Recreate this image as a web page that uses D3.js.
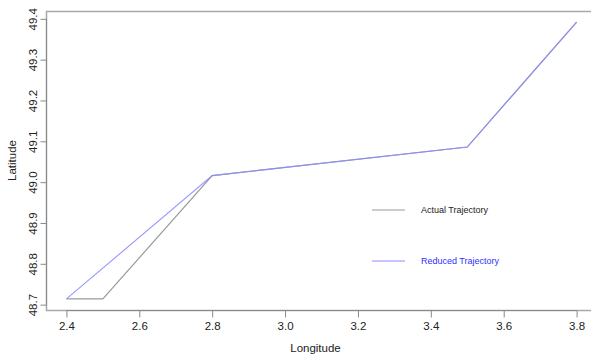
<!DOCTYPE html>
<html>
<head>
<meta charset="utf-8">
<script src="https://cdn.jsdelivr.net/npm/d3@7/dist/d3.min.js"></script>
<style>
  html, body { margin: 0; padding: 0; background: #fff; }
  svg { display: block; }
  text { font-family: "Liberation Sans", Arial, sans-serif; }
</style>
</head>
<body>
<svg id="chart" width="591" height="358"></svg>
<script>
// Data
const actualLon = [2.4, 2.5, 2.8, 3.5, 3.8];
const actualLat = [48.714, 48.714, 49.016, 49.086, 49.392];
const reducedLon = [2.4, 2.8, 3.5, 3.8];
const reducedLat = [48.714, 49.016, 49.086, 49.392];
const xTicks = [2.4, 2.6, 2.8, 3.0, 3.2, 3.4, 3.6, 3.8];
const yTicks = [48.7, 48.8, 48.9, 49.0, 49.1, 49.2, 49.3, 49.4];
const seriesNames = ["Actual Trajectory", "Reduced Trajectory"];

const svg = d3.select("#chart");
const mLeft = 46, mTop = 11, mRight = 597, mBottom = 310;

const xExt = d3.extent(actualLon.concat(reducedLon));
const yExt = d3.extent(actualLat.concat(reducedLat));
const xPad = (xExt[1] - xExt[0]) * 0.04;
const yPad = (yExt[1] - yExt[0]) * 0.04;

const x = d3.scaleLinear().domain([xExt[0] - xPad, xExt[1] + xPad]).range([mLeft, mRight]);
const y = d3.scaleLinear().domain([yExt[0] - yPad, yExt[1] + yPad]).range([mBottom, mTop]);

const axisColor = "#8a8a8a";

// frame
svg.append("rect")
  .attr("x", mLeft + 0.5).attr("y", mTop + 0.5)
  .attr("width", mRight - mLeft).attr("height", mBottom - mTop)
  .attr("fill", "none").attr("stroke", "#a8a8a8").attr("stroke-width", 1.5);

// x axis
const gx = svg.append("g").attr("transform", `translate(0,${mBottom + 0.5})`)
  .call(d3.axisBottom(x).tickValues(xTicks).tickFormat(d3.format(".1f")).tickSizeInner(7).tickSizeOuter(0).tickPadding(4));
gx.select(".domain").attr("stroke", axisColor).attr("d", `M${x(2.4)},0H${x(3.8)}`);
gx.selectAll(".tick line").attr("stroke", axisColor);
gx.selectAll(".tick text").attr("font-size", "11.5px").attr("fill", "#222");

// y axis
const gy = svg.append("g").attr("transform", `translate(${mLeft + 0.5},0)`)
  .call(d3.axisLeft(y).tickValues(yTicks).tickFormat(d3.format(".1f")).tickSizeInner(6).tickSizeOuter(0));
gy.select(".domain").attr("stroke", axisColor).attr("d", `M0,${y(48.7)}V${y(49.4)}`);
gy.selectAll(".tick line").attr("stroke", axisColor);
gy.selectAll(".tick text")
  .attr("font-size", "11.5px").attr("fill", "#222")
  .attr("text-anchor", "middle")
  .attr("x", null).attr("dy", null)
  .attr("transform", "translate(-14,0) rotate(-90)")
  .attr("dominant-baseline", "central");

// titles
svg.append("text").attr("x", (mLeft + 585) / 2).attr("y", 352)
  .attr("text-anchor", "middle").attr("font-size", "11.5px").attr("fill", "#222").text("Longitude");
svg.append("text").attr("transform", `translate(16,${(mTop + mBottom) / 2}) rotate(-90)`)
  .attr("text-anchor", "middle").attr("font-size", "11.5px").attr("fill", "#222").text("Latitude");

// lines
const line = d3.line().x(d => x(d[0])).y(d => y(d[1]));
const actual = actualLon.map((v, i) => [v, actualLat[i]]);
const reduced = reducedLon.map((v, i) => [v, reducedLat[i]]);

svg.append("path").datum(actual).attr("d", line)
  .attr("fill", "none").attr("stroke", "#9a9a9a").attr("stroke-width", 1.2);
svg.append("path").datum(reduced).attr("d", line)
  .attr("fill", "none").attr("stroke", "#8c8cff").attr("stroke-width", 1.1).attr("opacity", 0.9);

// legend
const legColors = ["#9a9a9a", "#8c8cff"];
const legText = ["#222", "#3030ff"];
const legY = [210, 261];
seriesNames.forEach((name, i) => {
  svg.append("line").attr("x1", 372).attr("x2", 405).attr("y1", legY[i]).attr("y2", legY[i])
    .attr("stroke", legColors[i]).attr("stroke-width", 1.2);
  svg.append("text").attr("x", 421).attr("y", legY[i]).attr("dominant-baseline", "central")
    .attr("font-size", "9px").attr("fill", legText[i]).text(name);
});
</script>
</body>
</html>
